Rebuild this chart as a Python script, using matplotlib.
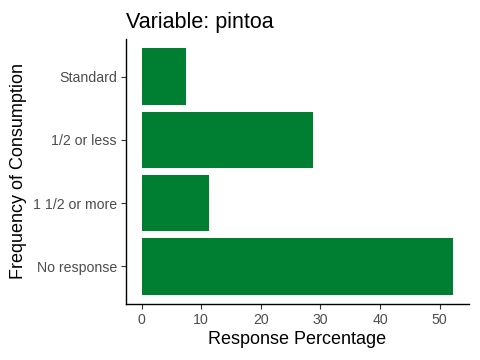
import matplotlib
matplotlib.use("Agg")
import matplotlib.pyplot as plt

# -------------------------------
# Data
# -------------------------------
categories = ["No response", "1 1/2 or more", "1/2 or less", "Standard"]
percentages = [52.3, 11.3, 28.7, 7.5]
bar_color = "#007F33"

plt.rcParams["font.family"] = ["Liberation Sans", "DejaVu Sans"]

# -------------------------------
# Plot
# -------------------------------
fig = plt.figure(figsize=(4.8, 3.6), dpi=100)
ax = fig.add_axes([0.2625, 0.1556, 0.977 - 0.2625, 0.8917 - 0.1556])

ypos = list(range(len(categories)))
ax.barh(ypos, percentages, height=0.9, color=bar_color)

ax.set_ylim(-0.6, len(categories) - 0.4)
xmax = max(percentages)
ax.set_xlim(-0.05 * xmax, xmax * 1.05)
ax.set_yticks(ypos)
ax.set_yticklabels(categories)
ax.set_xticks([0, 10, 20, 30, 40, 50])

for side in ["top", "right"]:
    ax.spines[side].set_visible(False)
for side in ["left", "bottom"]:
    ax.spines[side].set_linewidth(1.0)
    ax.spines[side].set_color("black")

ax.tick_params(axis="both", colors="#333333", labelcolor="#4D4D4D",
               labelsize=10.2, length=3.5, width=0.8, pad=3)

ax.set_xlabel("Response Percentage", fontsize=13, color="black", labelpad=3)
ax.set_ylabel("Frequency of Consumption", fontsize=13, color="black", labelpad=4)
ax.set_title("Variable: pintoa", fontsize=15.5, loc="left", color="black", pad=8)

fig.savefig("out.png", dpi=100)
plt.close(fig)
